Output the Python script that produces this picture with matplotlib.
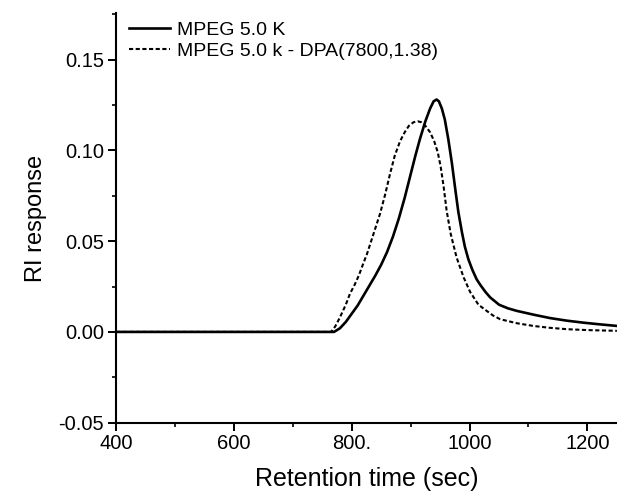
import matplotlib
matplotlib.use("Agg")
import matplotlib.pyplot as plt
from matplotlib.ticker import MultipleLocator, FormatStrFormatter

plt.rcParams["font.family"] = ["Liberation Sans", "DejaVu Sans"]
plt.rcParams["axes.unicode_minus"] = False

# MPEG 5.0 K
t_mpeg = [400, 770, 780, 790, 800, 810, 820, 830, 840, 850, 860, 870, 880,
          890, 899, 908, 916, 925, 933, 939, 944, 948, 953, 958, 964, 970,
          976, 981, 987, 992, 998, 1005, 1012, 1018, 1027, 1035, 1050, 1065,
          1080, 1110, 1137, 1165, 1193, 1220, 1250]
ri_mpeg = [0, 0, 0.002, 0.0055, 0.010, 0.0145, 0.020, 0.0255, 0.031, 0.037,
           0.044, 0.0525, 0.0625, 0.074, 0.0855, 0.097, 0.1065, 0.116, 0.123,
           0.127, 0.128, 0.127, 0.123, 0.117, 0.106, 0.093, 0.078, 0.066,
           0.055, 0.047, 0.040, 0.034, 0.029, 0.026, 0.022, 0.019, 0.015,
           0.013, 0.0116, 0.0094, 0.0076, 0.0062, 0.0051, 0.0042, 0.0033]

# MPEG 5.0 k - DPA(7800,1.38)
t_dpa = [400, 765, 772, 780, 790, 797, 805, 812, 820, 826, 837, 848, 857,
         865, 873, 882, 890, 897, 905, 912, 918, 925, 933, 940, 946, 951,
         956, 961, 968, 978, 990, 1001, 1015, 1029, 1040, 1052, 1080, 1108,
         1135, 1165, 1200, 1250]
ri_dpa = [0, 0, 0.003, 0.008, 0.015, 0.021, 0.026, 0.031, 0.038, 0.043,
          0.054, 0.065, 0.076, 0.087, 0.097, 0.105, 0.110, 0.1135, 0.1155,
          0.116, 0.1155, 0.1135, 0.110, 0.105, 0.099, 0.091, 0.080, 0.067,
          0.054, 0.041, 0.030, 0.022, 0.015, 0.0116, 0.009, 0.007, 0.0048,
          0.0033, 0.0023, 0.0015, 0.001, 0.0006]

labels = ["MPEG 5.0 K", "MPEG 5.0 k - DPA(7800,1.38)"]
xticks = [400, 600, 800, 1000, 1200]
xtick_labels = ["400", "600", "800.", "1000", "1200"]

fig = plt.figure(figsize=(6.17, 5.01), dpi=100)
ax = fig.add_axes([0.188, 0.1563, 0.8118, 0.8172])

ax.plot(t_mpeg, ri_mpeg, color="black", lw=1.9, label=labels[0])
ax.plot(t_dpa, ri_dpa, color="black", lw=1.5, linestyle=(0, (2, 1.2)),
        label=labels[1])

ax.set_xlim(400, 1250)
ax.set_ylim(-0.05, 0.1755)

ax.set_xticks(xticks)
ax.set_xticklabels(xtick_labels)
ax.xaxis.set_minor_locator(MultipleLocator(100))
ax.yaxis.set_major_locator(MultipleLocator(0.05))
ax.yaxis.set_minor_locator(MultipleLocator(0.025))
ax.yaxis.set_major_formatter(FormatStrFormatter("%.2f"))

for side in ["top", "right"]:
    ax.spines[side].set_visible(False)
for side in ["left", "bottom"]:
    ax.spines[side].set_linewidth(1.5)

ax.tick_params(which="major", direction="out", length=5.5, width=1.4,
               labelsize=14.5, pad=3)
ax.tick_params(which="minor", direction="out", length=3, width=1.2)

ax.set_xlabel("Retention time (sec)", fontsize=18, labelpad=10)
ax.set_ylabel("RI response", fontsize=17, labelpad=8)

ax.legend(loc="upper left", bbox_to_anchor=(129 / 617, 1 - 21 / 501),
          bbox_transform=fig.transFigure, frameon=False, fontsize=14,
          handlelength=2.1, handletextpad=0.35, labelspacing=0.2,
          borderpad=0, borderaxespad=0)

fig.savefig("out.png", dpi=100)
